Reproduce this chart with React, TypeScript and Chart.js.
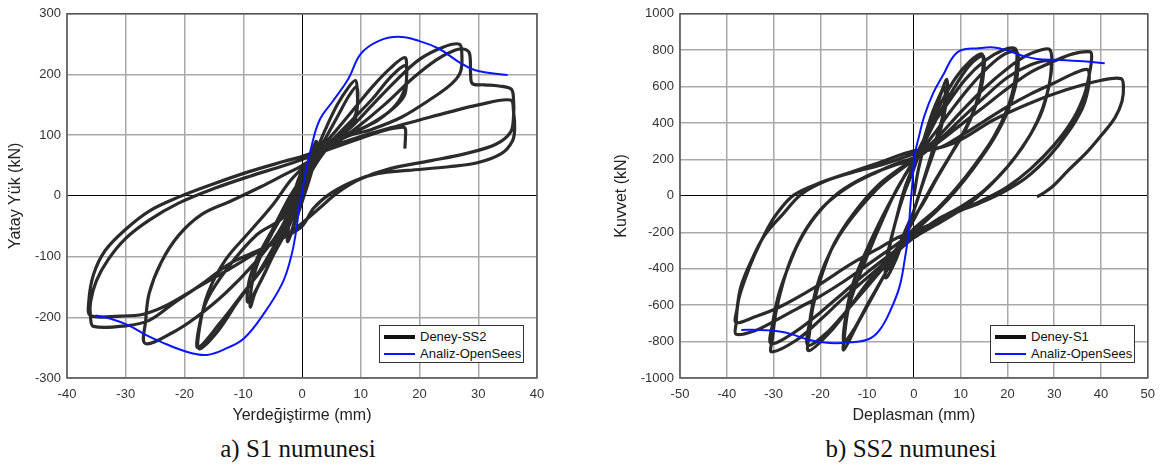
import React, { useEffect, useRef } from "react";
import { Chart, registerables } from "chart.js";

Chart.register(...registerables);

// ---------- Panel a) S1 numunesi ----------
const s1XTicks = [-40, 40, 10];
const s1YTicks = [-300, 300, 100];

const s1Analysis: number[][] = [
  [-35.1, -197], [-32.7, -202], [-29.6, -213], [-26.6, -229], [-24.1, -240],
  [-19.9, -256], [-16.2, -262], [-12.6, -250], [-9.8, -234], [-6.5, -194],
  [-3.4, -145], [-1.9, -102], [-1.0, -58], [-0.5, -21], [0, 4], [0.5, 33],
  [1.5, 77], [3.0, 125], [5.4, 158], [7.9, 193], [10.0, 234], [13.0, 255],
  [16.4, 262], [20.0, 255], [23.4, 242], [26.8, 220], [29.5, 207], [35.0, 199],
];

const s1Experiment: number[][] = [
  [0, 0], [1, 40], [2.2, 85], [2.4, 70], [1.5, 35], [0, -10], [-1, -35], [-2.3, -70],
  [-2.2, -45], [-1, -5], [0, 30], [1, 55], [2.4, 90], [2.2, 60], [0, -10], [-2.4, -75],
  [-2.2, -45], [0, 25],
  [2, 65], [4, 110], [6, 150], [8, 180], [9.1, 190],
  [9.4, 175], [9.3, 140], [8, 115], [6, 100], [4, 80], [2, 50], [0, 10], [-2, -40],
  [-4, -80], [-6, -120], [-8, -160], [-8.8, -183],
  [-8.6, -150], [-7.5, -110], [-5, -60], [-2, -10], [0, 20], [2, 60], [4, 95],
  [6, 130], [8, 165], [9.3, 180],
  [9.5, 160], [9, 125], [7, 100], [4, 75], [1, 30], [0, 5], [-2, -45], [-5, -100],
  [-7, -140], [-9.2, -175],
  [-9, -140], [-7.5, -100], [-5, -55], [-2, 0], [0, 30],
  [3, 75], [6, 110], [9, 145], [12, 180], [15, 210], [17.5, 228],
  [17.8, 210], [17.6, 180], [16, 150], [13, 125], [10, 110], [7, 95], [4, 75],
  [1, 30], [0, 5], [-3, -60], [-6, -110], [-10, -160], [-14, -210], [-17.7, -250],
  [-17.6, -220], [-16.2, -172], [-12.6, -118], [-7.7, -64], [-2.8, -31],
  [0, 40], [4, 80], [8, 120], [12, 160], [15, 195], [17.6, 215],
  [17.8, 195], [17.4, 165], [15, 140], [11, 115], [7, 98], [3, 70], [0, 20],
  [-3, -50], [-7, -120], [-11, -175], [-14.5, -225], [-17.5, -252],
  [-17.4, -215], [-16, -160], [-13, -105], [-9, -60], [-5, -15], [-2, 25], [0, 45],
  [4, 80], [8, 110], [12, 150], [16, 190], [20, 225], [24, 245], [26.8, 250],
  [27.2, 235], [27, 205], [25.5, 185], [22, 160], [17, 130], [12, 110], [7, 95],
  [3, 65], [0, 15], [-4, -60], [-8, -110], [-13, -160], [-18, -200], [-22, -225],
  [-26.7, -243],
  [-26.6, -205], [-26, -160], [-24, -110], [-21, -65], [-17, -30], [-12, -8],
  [-7, 15], [-3, 35], [0, 50], [4, 75], [9, 110], [14, 150], [19, 195], [23, 225],
  [26, 240], [27.5, 242],
  [28.5, 235], [28.7, 200], [29, 185], [31, 183], [33.5, 181], [35.6, 176],
  [36, 160], [36, 130], [35.5, 105], [33, 85], [28, 70], [22, 58], [15, 45],
  [10, 28], [6, 5], [3, -20], [0, -45], [-3, -68], [-8, -95],
  [-13, -124], [-18, -152], [-23, -180], [-27, -195], [-31, -198], [-36, -197],
  [-36.3, -175], [-35.5, -130], [-33.5, -90], [-30, -55], [-26, -25], [-21, -2],
  [-15, 20], [-9, 40], [-3, 57], [0, 65], [5, 82], [10, 98], [15, 112], [20, 125],
  [25, 138], [30, 150], [35.5, 158],
  [36, 140], [36.2, 110], [35.8, 90], [34, 70], [30, 55], [25, 48], [18, 42],
  [13, 37], [9, 25], [5, 5], [2, -20], [0, -50], [-3, -68], [-7, -88], [-12, -110],
  [-17, -145], [-22, -178], [-26, -205], [-30, -214], [-35.5, -215],
  [-36, -200], [-36, -175], [-35, -140], [-33, -105], [-30, -70], [-26, -40],
  [-21, -12], [-15, 12], [-9, 32], [-3, 50], [0, 60], [5, 78], [10, 95], [14, 108],
  [16, 112], [17.5, 112], [17.6, 95], [17.5, 78],
];

// ---------- Panel b) SS2 numunesi ----------
const ss2XTicks = [-50, 50, 10];
const ss2YTicks = [-1000, 1000, 200];

const ss2Analysis: number[][] = [
  [-36.9, -736], [-33.3, -736], [-28.7, -745], [-25.7, -763], [-22.6, -790],
  [-18.0, -808], [-13.5, -804], [-9.6, -786], [-7.3, -736], [-5.0, -628],
  [-3.1, -501], [-2.0, -357], [-1.2, -213], [-0.8, -69], [-0.3, 76], [0.15, 220],
  [1.1, 328], [2.2, 436], [4.1, 563], [6.4, 671], [8.3, 761], [10.2, 801],
  [13.3, 810], [17.1, 815], [20.2, 797], [23.2, 770], [26.3, 752], [30.9, 747],
  [36.2, 739], [40.8, 729],
];

const ss2Experiment: number[][] = [
  [0, 0], [1, 150], [3, 350], [5, 500], [6.5, 600],
  [6.7, 540], [6, 420], [4, 250], [2, 80], [0, -80], [-2, -200], [-4, -330], [-5.5, -400],
  [-5.3, -300], [-4, -150], [-2, 20], [0, 150], [2, 300], [4, 460], [6, 580], [7, 640],
  [7.2, 580], [6.5, 450], [5, 300], [3, 150], [1, 0], [0, -80], [-2, -220], [-4, -360],
  [-6, -450],
  [-5.7, -330], [-4, -150], [-2, 40], [0, 170],
  [3, 360], [6, 520], [9, 650], [12, 740], [14.5, 780],
  [14.8, 720], [14.2, 600], [13, 480], [11, 360], [8, 230], [5, 100], [2, -40],
  [0, -120], [-3, -260], [-6, -420], [-9, -560], [-12, -700], [-15, -845],
  [-14.8, -760], [-14, -620], [-12, -460], [-9.5, -300], [-7, -150], [-4, 20],
  [-1, 150], [0, 190],
  [3, 330], [6, 480], [9, 610], [12, 720], [14.8, 770],
  [15, 700], [14.3, 580], [12.5, 450], [10, 320], [7, 190], [4, 60], [1, -80],
  [0, -130], [-3, -270], [-6, -420], [-10, -600], [-13, -740], [-15, -800],
  [-14.5, -650], [-13, -480], [-10.5, -320], [-8, -180], [-5, -30], [-2, 110], [0, 200],
  [3, 350], [7, 500], [11, 640], [15, 740], [19, 800], [21.7, 808],
  [22, 740], [21.5, 620], [20, 480], [17, 320], [13, 170], [9, 40], [5, -70],
  [0, -180], [-5, -330], [-10, -480], [-14, -620], [-18, -750], [-22.5, -850],
  [-22.3, -750], [-21.5, -600], [-19.5, -420], [-17, -260], [-13, -100], [-8, 50],
  [-3, 150], [0, 200],
  [4, 330], [8, 470], [12, 600], [16, 710], [19.5, 780], [22, 790],
  [22.3, 720], [21.7, 600], [20, 460], [17, 310], [13, 160], [9, 30], [5, -80],
  [0, -200], [-5, -350], [-10, -500], [-15, -650], [-19, -760], [-22.7, -820],
  [-22.2, -680], [-21, -520], [-19, -370], [-16, -220], [-12, -80], [-7, 60],
  [-2, 160], [0, 200],
  [5, 320], [10, 460], [15, 590], [20, 700], [24, 770], [27, 800], [29, 805],
  [29.5, 740], [29, 620], [27.5, 480], [25, 340], [21, 190], [16, 50], [11, -60],
  [6, -140], [0, -230], [-5, -340], [-10, -450], [-15, -560], [-20, -680],
  [-25, -790], [-30.4, -856],
  [-30.2, -780], [-29.5, -640], [-28, -480], [-26, -330], [-23, -180], [-19, -50],
  [-14, 50], [-8, 130], [-3, 185], [0, 210],
  [5, 300], [10, 420], [15, 540], [20, 650], [25, 720], [29, 740],
  [29.3, 680], [28.5, 560], [27, 440], [24, 300], [20, 160], [15, 30], [10, -60],
  [5, -130], [0, -220], [-5, -320], [-10, -420], [-15, -530], [-20, -640],
  [-25, -740], [-30.5, -810],
  [-30.2, -700], [-29, -550], [-27, -400], [-24.5, -250], [-21, -110], [-16, 20],
  [-10, 110], [-4, 170], [0, 200],
  [5, 290], [10, 390], [15, 490], [20, 590], [25, 680], [30, 740], [34, 780],
  [37.7, 791],
  [38, 760], [37.6, 680], [36.5, 560], [34, 420], [30, 280], [25, 150], [20, 50],
  [15, -20], [10, -80], [5, -140], [0, -200], [-5, -290], [-10, -380], [-15, -470],
  [-20, -550], [-25, -620], [-30, -690], [-34, -740], [-38, -760],
  [-38, -700], [-37.5, -573], [-36, -450], [-34, -321], [-31.5, -190],
  [-29.5, -105], [-25.7, 4], [-19.6, 76], [-13.5, 130], [-7.3, 184], [0, 247],
  [5, 260], [10, 330], [15, 410], [20, 490], [25, 560], [30, 620], [34, 670],
  [37, 695],
  [37.5, 660], [37.2, 580], [36, 480], [33, 350], [29, 220], [24, 100], [19, 20],
  [14, -40], [9, -90], [4, -150], [0, -230], [-2, -213], [-7.3, -285], [-13.5, -375],
  [-21.1, -501], [-28.7, -610], [-34, -664], [-38, -695],
  [-37.8, -620], [-37, -500], [-35, -370], [-32, -220], [-28, -100], [-24, 10],
  [-19, 80], [-13, 130], [-7, 170], [0, 230],
  [8.7, 292], [17.1, 418], [24.8, 509], [32.4, 581], [40.1, 635], [44.3, 644],
  [44.8, 600], [44.5, 520], [43, 430], [40, 330], [37, 240], [33, 140], [30, 60],
  [28, 20], [26.3, -5],
];

const framePlugin = {
  id: "frame",
  afterDraw(chart: any) {
    const { ctx, chartArea } = chart;
    const { left, top, right, bottom } = chartArea;
    ctx.save();
    ctx.strokeStyle = "#555";
    ctx.lineWidth = 1.5;
    ctx.strokeRect(left, top, right - left, bottom - top);
    ctx.restore();
  },
};

const toPts = (arr: number[][]) => arr.map(([x, y]) => ({ x, y }));

function makeConfig(
  exp: number[][],
  ana: number[][],
  xt: number[],
  yt: number[],
  xTitle: string,
  yTitle: string,
  yWidth: number,
  padRight: number,
  yTitlePad: number,
  expLabel: string
): any {
  const gridColor = (c: any) => (c.tick && c.tick.value === 0 ? "#000" : "#a9a9a9");
  const gridWidth = (c: any) => (c.tick && c.tick.value === 0 ? 1 : 1.5);
  const font = { family: "'Liberation Sans', Arial, sans-serif", size: 13 };
  const plain = (v: any) => String(v);
  return {
    type: "scatter",
    data: {
      datasets: [
        {
          label: "Analiz-OpenSees",
          data: toPts(ana),
          showLine: true,
          borderColor: "#0a16ff",
          borderWidth: 2,
          pointRadius: 0,
          tension: 0.4,
          fill: false,
        },
        {
          label: expLabel,
          data: toPts(exp),
          showLine: true,
          borderColor: "rgba(32,32,32,0.95)",
          borderWidth: 3.2,
          pointRadius: 0,
          tension: 0.35,
          fill: false,
        },
      ],
    },
    options: {
      animation: false,
      responsive: true,
      maintainAspectRatio: false,
      layout: { padding: { left: 0, right: padRight, top: 10, bottom: 0 } },
      plugins: { legend: { display: false }, tooltip: { enabled: false } },
      scales: {
        x: {
          type: "linear",
          min: xt[0],
          max: xt[1],
          ticks: { stepSize: xt[2], color: "#333", font, padding: 9, callback: plain },
          grid: { color: gridColor, lineWidth: gridWidth, drawTicks: false },
          border: { display: false },
          title: {
            display: true,
            text: xTitle,
            color: "#222",
            font: { family: "'Liberation Sans', Arial, sans-serif", size: 16 },
            padding: { top: 0, bottom: 5 },
          },
          afterFit: (s: any) => {
            s.height = 52;
          },
        },
        y: {
          type: "linear",
          min: yt[0],
          max: yt[1],
          ticks: { stepSize: yt[2], color: "#333", font, padding: 6, callback: plain },
          grid: { color: gridColor, lineWidth: gridWidth, drawTicks: false },
          border: { display: false },
          title: {
            display: true,
            text: yTitle,
            color: "#222",
            font: { family: "'Liberation Sans', Arial, sans-serif", size: 16 },
            padding: { top: yTitlePad, bottom: 0 },
          },
          afterFit: (s: any) => {
            s.width = yWidth;
          },
        },
      },
    },
    plugins: [framePlugin],
  };
}

function Panel(props: { config: any; left: number }) {
  const ref = useRef<HTMLCanvasElement | null>(null);
  useEffect(() => {
    if (!ref.current) return;
    const chart = new Chart(ref.current, props.config);
    return () => chart.destroy();
  }, []);
  return (
    <div style={{ position: "absolute", left: props.left, top: 0, width: 582, height: 430 }}>
      <canvas ref={ref} />
    </div>
  );
}

function Legend(props: { left: number; expLabel: string }) {
  const row = (color: string, w: number, text: string, top: number) => (
    <div style={{ position: "absolute", left: 4, top, height: 17, display: "flex", alignItems: "center" }}>
      <div style={{ width: 31, height: w, background: color, marginRight: 5 }} />
      <span style={{ font: "13px 'Liberation Sans', Arial, sans-serif", color: "#111", whiteSpace: "nowrap" }}>{text}</span>
    </div>
  );
  return (
    <div
      style={{
        position: "absolute",
        left: props.left,
        top: 325,
        width: 145,
        height: 38,
        border: "1px solid #333",
        background: "#fff",
        boxSizing: "border-box",
      }}
    >
      {row("#111", 4, props.expLabel, 2)}
      {row("#0a16ff", 2, "Analiz-OpenSees", 19)}
    </div>
  );
}

const captionStyle = (center: number): React.CSSProperties => ({
  position: "absolute",
  left: center - 150,
  width: 300,
  top: 434,
  textAlign: "center",
  font: "25px 'Liberation Serif', 'Times New Roman', serif",
  color: "#111",
  lineHeight: "30px",
});

export default function App() {
  const cfgA = makeConfig(s1Experiment, s1Analysis, s1XTicks, s1YTicks, "Yerdeğiştirme (mm)", "Yatay Yük (kN)", 67, 45, 6, "Deney-SS2");
  const cfgB = makeConfig(ss2Experiment, ss2Analysis, ss2XTicks, ss2YTicks, "Deplasman (mm)", "Kuvvet (kN)", 98, 14, 30, "Deney-S1");
  return (
    <div style={{ position: "fixed", left: 0, top: 0, width: 1164, height: 471, background: "#fff", overflow: "hidden" }}>
      <Panel config={cfgA} left={0} />
      <Panel config={cfgB} left={582} />
      <Legend left={379} expLabel="Deney-SS2" />
      <Legend left={990} expLabel="Deney-S1" />
      <div style={captionStyle(298)}>a) S1 numunesi</div>
      <div style={captionStyle(911)}>b) SS2 numunesi</div>
    </div>
  );
}
